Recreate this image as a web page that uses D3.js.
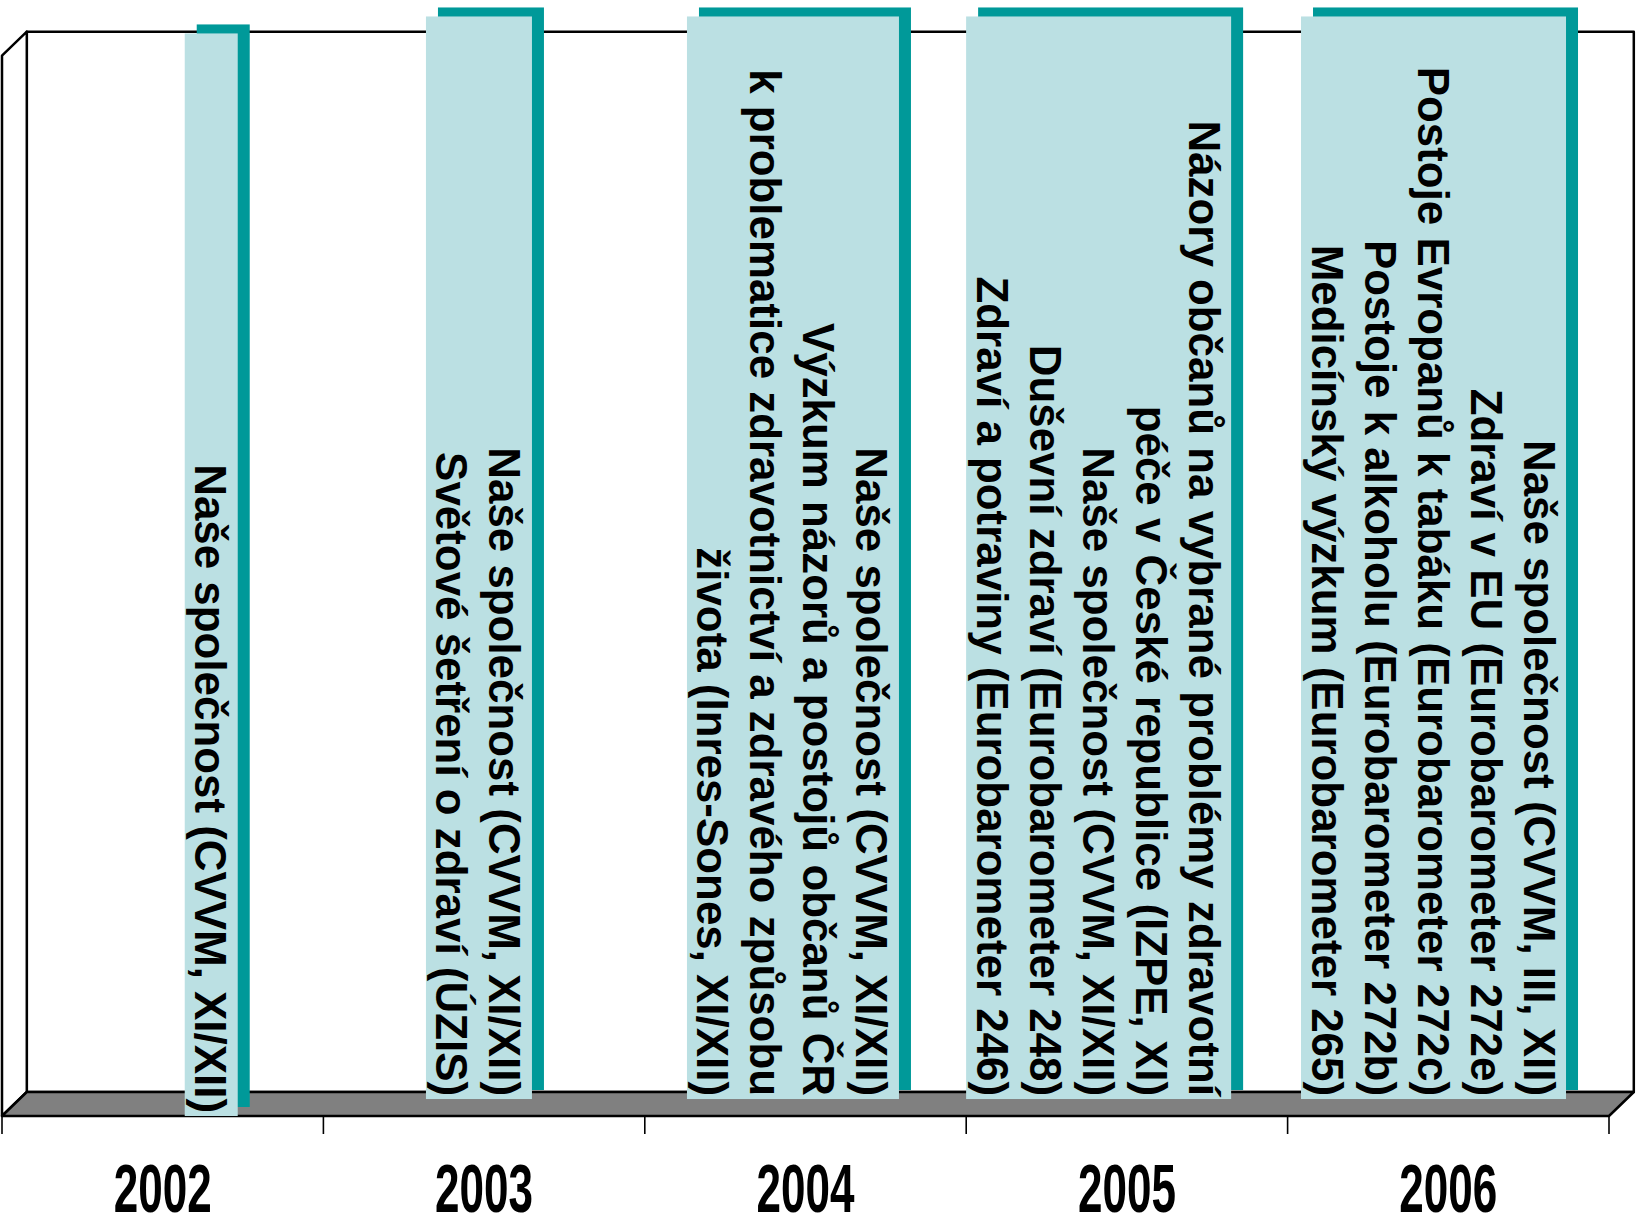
<!DOCTYPE html>
<html>
<head>
<meta charset="utf-8">
<script src="https://cdn.jsdelivr.net/npm/d3@7"></script>
<style>
  body { margin: 0; background: #fff; }
  .box text { font-family: "Liberation Sans", Arial, sans-serif; font-weight: bold; fill: #000; }
  .year { font-family: "Liberation Sans Narrow", "Arial Narrow", "Liberation Sans", sans-serif; font-weight: bold; fill: #000; }
</style>
</head>
<body>
<div id="chart"></div>
<script>
// categories
var years = ["2002", "2003", "2004", "2005", "2006"];

// surveys per year (one line of text each, first line is drawn on the right)
var surveys2002 = ["Naše společnost (CVVM, XI/XII)"];
var surveys2003 = ["Naše společnost (CVVM, XI/XII)",
                   "Světové šetření o zdraví (ÚZIS)"];
var surveys2004 = ["Naše společnost (CVVM, XI/XII)",
                   "Výzkum názorů a postojů občanů ČR",
                   "k problematice zdravotnictví a zdravého způsobu",
                   "života (Inres-Sones, XI/XII)"];
var surveys2005 = ["Názory občanů na vybrané problémy zdravotní",
                   "péče v České republice (IZPE, XI)",
                   "Naše společnost (CVVM, XI/XII)",
                   "Duševní zdraví (Eurobarometer 248)",
                   "Zdraví a potraviny (Eurobarometer 246)"];
var surveys2006 = ["Naše společnost (CVVM, III, XII)",
                   "Zdraví v EU (Eurobarometer 272e)",
                   "Postoje Evropanů k tabáku (Eurobarometer 272c)",
                   "Postoje k alkoholu (Eurobarometer 272b)",
                   "Medicínský výzkum (Eurobarometer 265)"];
var surveys = [surveys2002, surveys2003, surveys2004, surveys2005, surveys2006];

// column top / base (wall height = 100)
var colTop  = [102.1, 103.7, 103.7, 103.7, 103.7];
var colBase = [0, 1.6, 1.6, 1.6, 1.6];

// how far each box sits off its category centre (share of the band)
var nudge = [0.151, -0.016, -0.039, -0.088, -0.046];

var svgWidth = 1642;
var svgHeight = 1215;

// front plane of the plot and the depth of the walls
var plot = { left: 2, right: 1609, bottom: 1116, top: 55.7 };
var depth = { dx: 24.8, dy: -24 };
var shadow = { dx: 12, dy: -9 };
var lineH = 53;
var fontSize = 43.9;

var svg = d3.select("#chart")
  .append("svg")
  .attr("width", svgWidth)
  .attr("height", svgHeight);

var xBandScale = d3.scaleBand()
  .domain(years)
  .range([plot.left, plot.right]);

var yLinearScale = d3.scaleLinear()
  .domain([0, 100])
  .range([plot.bottom, plot.top]);

var x0 = plot.left, x1 = plot.right;
var y0 = yLinearScale(0), y1 = yLinearScale(100);

// walls
var walls = svg.append("g")
  .attr("fill", "none")
  .attr("stroke", "#000")
  .attr("stroke-width", 2.5)
  .attr("stroke-linejoin", "round");

// back wall
walls.append("rect")
  .attr("x", x0 + depth.dx)
  .attr("y", y1 + depth.dy)
  .attr("width", x1 - x0)
  .attr("height", y0 - y1)
  .attr("fill", "#fff");

// left side wall
walls.append("polygon")
  .attr("points", [[x0, y1], [x0 + depth.dx, y1 + depth.dy],
                   [x0 + depth.dx, y0 + depth.dy], [x0, y0]].join(" "))
  .attr("fill", "#fff");

// floor
walls.append("polygon")
  .attr("points", [[x0, y0], [x0 + depth.dx, y0 + depth.dy],
                   [x1 + depth.dx, y0 + depth.dy], [x1, y0]].join(" "))
  .attr("fill", "#808080");

// category ticks on the front edge
var bottomAxis = d3.axisBottom(xBandScale).tickSize(0).tickFormat("");
var axisG = svg.append("g")
  .attr("transform", `translate(0, ${y0})`)
  .call(bottomAxis);
axisG.select(".domain").remove();

var bounds = years.map(d => xBandScale(d)).concat([plot.right]);
axisG.selectAll("line.sep")
  .data(bounds)
  .enter()
  .append("line")
  .attr("class", "sep")
  .attr("x1", d => d)
  .attr("x2", d => d)
  .attr("y1", 0)
  .attr("y2", 18)
  .attr("stroke", "#000")
  .attr("stroke-width", 1.6);

// year labels
svg.selectAll("text.year")
  .data(years)
  .enter()
  .append("text")
  .attr("class", "year")
  .attr("x", d => xBandScale(d) + xBandScale.bandwidth() / 2)
  .attr("y", 1212)
  .attr("text-anchor", "middle")
  .attr("font-size", 68)
  .attr("textLength", 98)
  .attr("lengthAdjust", "spacingAndGlyphs")
  .text(d => d);

// boxes
var boxes = years.map(function(yr, i) {
  var w = surveys[i].length * lineH;
  var cx = xBandScale(yr) + xBandScale.bandwidth() / 2 + nudge[i] * xBandScale.bandwidth();
  return {
    year: yr,
    lines: surveys[i],
    left: cx - w / 2,
    width: w,
    top: yLinearScale(colTop[i]),
    bottom: yLinearScale(colBase[i])
  };
});

var boxG = svg.selectAll("g.box")
  .data(boxes)
  .enter()
  .append("g")
  .attr("class", "box");

// teal shadow
boxG.append("rect")
  .attr("x", d => d.left + shadow.dx)
  .attr("y", d => d.top + shadow.dy)
  .attr("width", d => d.width)
  .attr("height", d => d.bottom - d.top)
  .attr("fill", "#009999");

// light face
boxG.append("rect")
  .attr("x", d => d.left)
  .attr("y", d => d.top)
  .attr("width", d => d.width)
  .attr("height", d => d.bottom - d.top)
  .attr("fill", "#bbe0e3");

// rotated text lines, right aligned to the bottom of the box
boxG.each(function(d) {
  var g = d3.select(this);
  var right = d.left + d.width;
  d.lines.forEach(function(line, j) {
    var bx = right - (j + 1) * lineH + 10.5;
    var by = d.bottom - 3;
    g.append("text")
      .attr("transform", `translate(${bx}, ${by}) rotate(90)`)
      .attr("text-anchor", "end")
      .attr("font-size", fontSize)
      .text(line);
  });
});
</script>
</body>
</html>
